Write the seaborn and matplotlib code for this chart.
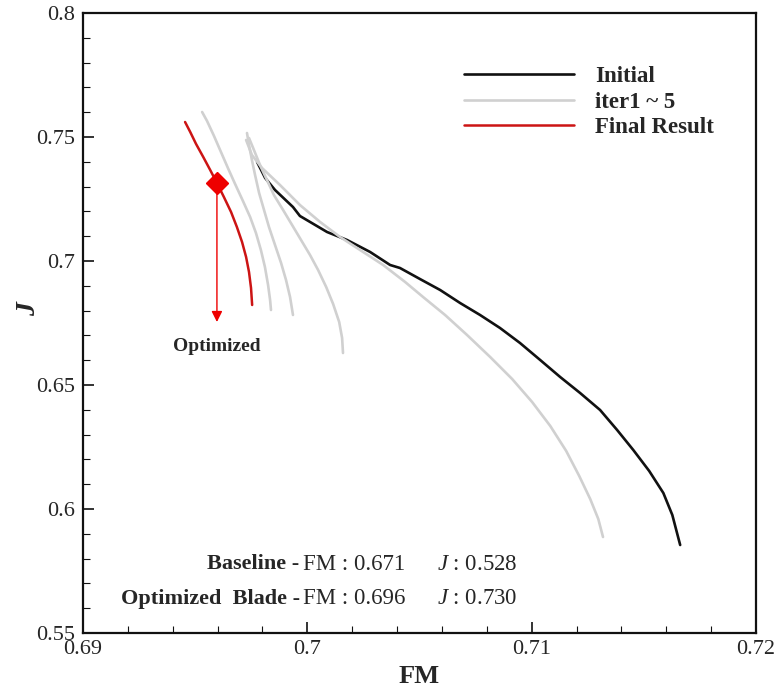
import numpy as np
import pandas as pd
import seaborn as sns
import matplotlib.pyplot as plt
from matplotlib.ticker import FixedLocator, FixedFormatter, MultipleLocator

# curves (FM, J)
initial_fm = [0.69776, 0.69812, 0.69856, 0.69936, 0.69967, 0.70088, 0.70177, 0.70280,
              0.70369, 0.70413, 0.70502, 0.70592, 0.70681, 0.70770, 0.70859, 0.70948,
              0.71038, 0.71127, 0.71216, 0.71305, 0.71381, 0.71453, 0.71524, 0.71587,
              0.71627, 0.71662]
initial_j = [0.73992, 0.73347, 0.72863, 0.72177, 0.71815, 0.71169, 0.70847, 0.70363,
             0.69839, 0.69718, 0.69274, 0.68831, 0.68306, 0.67823, 0.67298, 0.66694,
             0.66008, 0.65323, 0.64677, 0.63992, 0.63185, 0.62379, 0.61532, 0.60645,
             0.59758, 0.58548]

iter1_fm = [0.69531, 0.69553, 0.69584, 0.69615, 0.69646, 0.69678, 0.69713, 0.69745,
            0.69771, 0.69793, 0.69811, 0.69825, 0.69834, 0.69838]
iter1_j = [0.76008, 0.75645, 0.75040, 0.74395, 0.73750, 0.73105, 0.72419, 0.71774,
           0.71129, 0.70444, 0.69758, 0.69032, 0.68427, 0.68024]

iter2_fm = [0.69731, 0.69740, 0.69753, 0.69767, 0.69785, 0.69807, 0.69829, 0.69856,
            0.69883, 0.69905, 0.69923, 0.69936]
iter2_j = [0.75161, 0.74677, 0.74073, 0.73468, 0.72742, 0.72056, 0.71371, 0.70645,
           0.69919, 0.69234, 0.68548, 0.67823]

iter3_fm = [0.69740, 0.69762, 0.69789, 0.69820, 0.69851, 0.69892, 0.69932, 0.69972,
            0.70012, 0.70048, 0.70084, 0.70115, 0.70142, 0.70155, 0.70159]
iter3_j = [0.74960, 0.74476, 0.73871, 0.73266, 0.72661, 0.72056, 0.71452, 0.70847,
           0.70242, 0.69637, 0.68952, 0.68266, 0.67540, 0.66895, 0.66290]

iter4_fm = [0.69727, 0.69753, 0.69798, 0.69878, 0.69967, 0.70057, 0.70146, 0.70235,
            0.70338, 0.70436, 0.70516, 0.70614, 0.70712, 0.70815, 0.70913, 0.71002,
            0.71083, 0.71154, 0.71212, 0.71261, 0.71297, 0.71318]
iter4_j = [0.74879, 0.74274, 0.73750, 0.73065, 0.72258, 0.71573, 0.70968, 0.70444,
           0.69839, 0.69153, 0.68548, 0.67823, 0.67016, 0.66129, 0.65242, 0.64315,
           0.63347, 0.62339, 0.61331, 0.60403, 0.59597, 0.58871]

final_fm = [0.69455, 0.69478, 0.69504, 0.69536, 0.69567, 0.69597, 0.69628, 0.69660,
            0.69686, 0.69709, 0.69727, 0.69740, 0.69749, 0.69754]
final_j = [0.75605, 0.75202, 0.74718, 0.74194, 0.73669, 0.73145, 0.72581, 0.71976,
           0.71371, 0.70766, 0.70161, 0.69556, 0.68911, 0.68226]

opt_point = (0.69597, 0.7315)
arrow_end_j = 0.6754
optimized_label_j = 0.6657

x_ticks = [0.69, 0.70, 0.71, 0.72]
x_tick_labels = ['0.69', '0.7', '0.71', '0.72']
y_ticks = [0.55, 0.60, 0.65, 0.70, 0.75, 0.80]
y_tick_labels = ['0.55', '0.6', '0.65', '0.7', '0.75', '0.8']

sns.set_style('ticks')
plt.rcParams['font.family'] = ['Liberation Serif', 'DejaVu Serif']
plt.rcParams['mathtext.fontset'] = 'custom'
plt.rcParams['mathtext.rm'] = 'Liberation Serif'
plt.rcParams['mathtext.it'] = 'Liberation Serif:italic'
plt.rcParams['mathtext.bf'] = 'Liberation Serif:bold'

fig = plt.figure(figsize=(7.77, 6.88), dpi=100)
ax = fig.add_axes([83 / 777, 55 / 688, 673 / 777, 620 / 688])

black = '#111111'
gray = '#d0d0d0'
red = '#cc1414'

sns.lineplot(x=initial_fm, y=initial_j, sort=False, estimator=None, color=black,
             lw=1.9, ax=ax, label='Initial')
first = True
for fm, j in [(iter1_fm, iter1_j), (iter2_fm, iter2_j), (iter3_fm, iter3_j), (iter4_fm, iter4_j)]:
    sns.lineplot(x=fm, y=j, sort=False, estimator=None, color=gray, lw=1.9, ax=ax,
                 label='iter1 ~ 5' if first else None)
    first = False
sns.lineplot(x=final_fm, y=final_j, sort=False, estimator=None, color=red,
             lw=1.8, ax=ax, label='Final Result')

ax.plot([opt_point[0]], [opt_point[1]], marker='D', color='#ee0000', ms=11, zorder=5)
ax.annotate('', xy=(opt_point[0], arrow_end_j), xytext=opt_point,
            arrowprops=dict(arrowstyle='-|>', color='#ee0000', lw=1.0, mutation_scale=16,
                            shrinkA=0, shrinkB=0))
ax.text(opt_point[0], optimized_label_j, 'Optimized', ha='center', va='center',
        fontsize=14, fontweight='bold')

ax.set_xlim(0.69, 0.72)
ax.set_ylim(0.55, 0.80)
ax.xaxis.set_major_locator(FixedLocator(x_ticks))
ax.xaxis.set_major_formatter(FixedFormatter(x_tick_labels))
ax.yaxis.set_major_locator(FixedLocator(y_ticks))
ax.yaxis.set_major_formatter(FixedFormatter(y_tick_labels))
ax.xaxis.set_minor_locator(MultipleLocator(0.002))
ax.yaxis.set_minor_locator(MultipleLocator(0.01))
ax.tick_params(which='both', direction='in', top=False, right=False, labelsize=16, color=black)
ax.tick_params(which='major', length=8, width=1.2, pad=6)
ax.tick_params(axis='x', which='major', pad=5)
ax.tick_params(which='minor', length=5, width=0.8)
for s in ax.spines.values():
    s.set_linewidth(1.6)
    s.set_color(black)

ax.set_xlabel('FM', fontsize=19, fontweight='bold')
ax.xaxis.set_label_coords(0.5, -0.052)
ax.set_ylabel('J', fontsize=20, fontweight='bold', fontstyle='italic')
ax.yaxis.set_label_coords(-0.062, 0.522)

leg = ax.legend(loc='upper right', bbox_to_anchor=(0.968, 0.948), frameon=False,
                handlelength=4.8, handletextpad=0.9, labelspacing=0.2,
                prop={'weight': 'bold', 'size': 16.5})

ax.text(0.322, 0.111, 'Baseline -', transform=ax.transAxes, ha='right', va='center',
        fontsize=16, fontweight='bold')
ax.text(0.327, 0.111, 'FM : 0.671', transform=ax.transAxes, ha='left',
        va='center', fontsize=16.5)
ax.text(0.526, 0.111, '$J$ : 0.528', transform=ax.transAxes, ha='left',
        va='center', fontsize=16.5)
ax.text(0.322, 0.055, 'Optimized  Blade -', transform=ax.transAxes, ha='right', va='center',
        fontsize=16, fontweight='bold')
ax.text(0.327, 0.055, 'FM : 0.696', transform=ax.transAxes, ha='left',
        va='center', fontsize=16.5)
ax.text(0.526, 0.055, '$J$ : 0.730', transform=ax.transAxes, ha='left',
        va='center', fontsize=16.5)

fig.savefig('out.png', dpi=100)
